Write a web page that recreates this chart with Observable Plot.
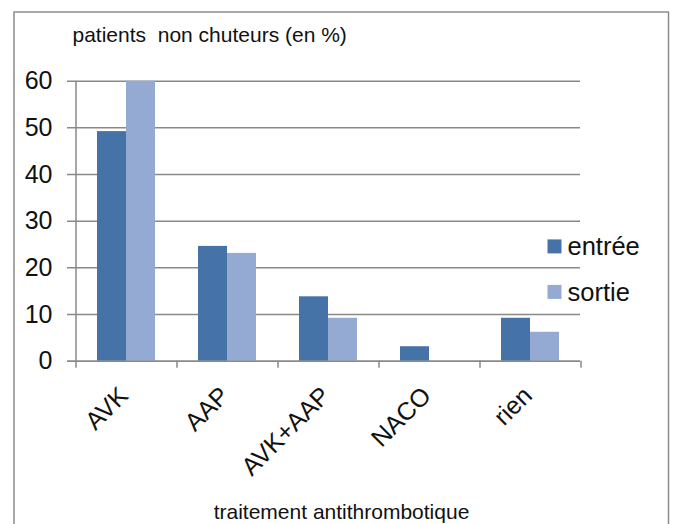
<!DOCTYPE html>
<html>
<head>
<meta charset="utf-8">
<script src="https://cdn.jsdelivr.net/npm/d3@7"></script>
<script src="https://cdn.jsdelivr.net/npm/@observablehq/plot@0.6"></script>
<style>
  html, body { margin: 0; padding: 0; background: #fff; }
  svg text { white-space: pre; }
</style>
</head>
<body>
<div id="chart"></div>
<script>
const categories = ["AVK", "AAP", "AVK+AAP", "NACO", "rien"];
const series = ["entrée", "sortie"];
const entree = [49.2, 24.6, 13.8, 3.1, 9.2];
const sortie = [60, 23.1, 9.2, 0, 6.2];
const yTicks = [0, 10, 20, 30, 40, 50, 60];
const titleText = "patients  non chuteurs (en %)";
const xTitleText = "traitement antithrombotique";
const colors = ["#4573A8", "#95AAD3"];

const rows = categories.flatMap((c, i) => [
  {cat: c, serie: series[0], val: entree[i]},
  {cat: c, serie: series[1], val: sortie[i]}
]);

const gridColor = "#898989";
const half = 29;

const marks = [
  Plot.frame({stroke: "#8c8c8c", strokeWidth: 1.5, insetLeft: -61.5, insetTop: -69.2, insetRight: -88, insetBottom: -200}),
  Plot.ruleY(yTicks, {y: d => d, stroke: gridColor, strokeWidth: 1.5, insetLeft: -8}),
  Plot.barY(rows.filter(d => d.serie === series[0]), {x: "cat", y: "val", fill: colors[0], insetRight: half}),
  Plot.barY(rows.filter(d => d.serie === series[1]), {x: "cat", y: "val", fill: colors[1], insetLeft: half}),
  Plot.ruleY([0], {y: d => d, stroke: gridColor, strokeWidth: 1.5, insetLeft: -8}),
  Plot.ruleX([categories[0]], {x: d => d, dx: -50.5, y1: 60, y2: 0, insetBottom: -7, stroke: gridColor, strokeWidth: 1.5}),
  Plot.ruleX(categories, {x: d => d, dx: 50.5, y1: 0, y2: 0, insetBottom: -7, stroke: gridColor, strokeWidth: 1.5}),
  Plot.text(yTicks, {y: d => d, text: d => String(d), frameAnchor: "left", dx: -23, textAnchor: "end", fontSize: 25, fill: "#111"}),
  Plot.text(categories, {x: d => d, text: d => d, frameAnchor: "bottom", dx: 3, dy: 36, rotate: -45, textAnchor: "end", lineAnchor: "bottom", fontSize: 25, fill: "#111"}),
  Plot.text([titleText], {text: d => d, frameAnchor: "top-left", dx: -3, dy: -38.7, textAnchor: "start", lineAnchor: "bottom", fontSize: 21, fill: "#111"}),
  Plot.text([xTitleText], {text: d => d, frameAnchor: "bottom", dx: 13.5, dy: 158, lineAnchor: "bottom", fontSize: 21, fill: "#111"})
];

series.forEach((s, i) => {
  marks.push(Plot.dot([s], {frameAnchor: "right", dx: -26, dy: 25.2 + i * 45.5, symbol: "square", r: 7.9, fill: colors[i], stroke: "none"}));
  marks.push(Plot.text([s], {text: d => d, frameAnchor: "right", dx: -13, dy: 34.2 + i * 46, textAnchor: "start", lineAnchor: "bottom", fontSize: 25.5, fill: "#111"}));
});

const chart = Plot.plot({
  width: 673,
  height: 524,
  marginLeft: 75,
  marginRight: 93,
  marginTop: 80.7,
  marginBottom: 163.3,
  style: {fontFamily: "'Liberation Sans', Arial, sans-serif", background: "#fff", color: "#111", overflow: "visible"},
  x: {domain: categories, paddingInner: 0.426, paddingOuter: 0.213, axis: null},
  y: {domain: [0, 60], axis: null},
  marks
});
document.getElementById("chart").appendChild(chart);
</script>
</body>
</html>
